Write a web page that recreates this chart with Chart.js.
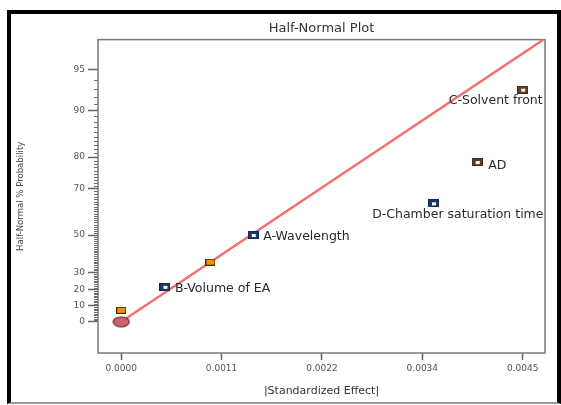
<!DOCTYPE html>
<html>
<head>
<meta charset="utf-8">
<script src="https://cdn.jsdelivr.net/npm/chart.js@4.4.1/dist/chart.umd.min.js"></script>
<style>
  html, body { margin: 0; padding: 0; background: #fff; }
  #wrap { position: relative; width: 561px; height: 405px; overflow: hidden; }
  #frame { position: absolute; left: 7px; top: 10px; width: 554px; height: 394px; box-sizing: border-box;
           border: 4px solid #000; border-bottom: 2px solid #9a9a9a; }
  #chart { position: absolute; left: 0; top: 0; }
</style>
</head>
<body>
<div id="wrap">
  <div id="frame"></div>
  <canvas id="chart" width="561" height="405"></canvas>
</div>
<script>
// axis ticks
const xTickValues = [0, 0.001125, 0.00225, 0.003375, 0.0045];
const xTickLabels = ['0.0000', '0.0011', '0.0022', '0.0034', '0.0045'];
const yTickPct = [0, 10, 20, 30, 50, 70, 80, 90, 95];

// error estimates (orange)
const errorX = [0.0000, 0.00100];
const errorPct = [7.1, 35.7];

// effects (blue)
const blueNames = ['B-Volume of EA', 'A-Wavelength', 'D-Chamber saturation time'];
const blueX = [0.00049, 0.00148, 0.00350];
const bluePct = [21.4, 50.0, 64.3];

// effects (brown)
const brownNames = ['AD', 'C-Solvent front'];
const brownX = [0.00399, 0.00450];
const brownPct = [78.6, 92.9];

// origin marker and reference line
const originX = [0];
const originPct = [0];
const lineX = [0, 0.0048];
const linePct = [0, 97.4];

// inverse normal CDF (Acklam)
function normInv(p) {
    const a = [-3.969683028665376e+01, 2.209460984245205e+02, -2.759285104469687e+02, 1.383577518672690e+02, -3.066479806614716e+01, 2.506628277459239e+00];
    const b = [-5.447609879822406e+01, 1.615858368580409e+02, -1.556989798598866e+02, 6.680131188771972e+01, -1.328068155288572e+01];
    const c = [-7.784894002430293e-03, -3.223964580411365e-01, -2.400758277161838e+00, -2.549671035506888e+00, 4.374664141464968e+00, 2.938163982698783e+00];
    const d = [7.784695709041462e-03, 3.224671290700398e-01, 2.445134137142996e+00, 3.754408661907416e+00];
    const pl = 0.02425;
    if (p < pl) {
        const q = Math.sqrt(-2 * Math.log(p));
        return (((((c[0]*q+c[1])*q+c[2])*q+c[3])*q+c[4])*q+c[5]) / ((((d[0]*q+d[1])*q+d[2])*q+d[3])*q+1);
    }
    if (p > 1 - pl) {
        const q = Math.sqrt(-2 * Math.log(1 - p));
        return -(((((c[0]*q+c[1])*q+c[2])*q+c[3])*q+c[4])*q+c[5]) / ((((d[0]*q+d[1])*q+d[2])*q+d[3])*q+1);
    }
    const q = p - 0.5, r = q * q;
    return (((((a[0]*r+a[1])*r+a[2])*r+a[3])*r+a[4])*r+a[5])*q / (((((b[0]*r+b[1])*r+b[2])*r+b[3])*r+b[4])*r+1);
}
const halfNormal = pct => normInv(0.5 + pct / 200);
const toPoints = (xs, ps) => xs.map((x, i) => ({ x: x, y: halfNormal(ps[i]) }));

function squareMarker(w, h, fill, edge, hole) {
    const cv = document.createElement('canvas');
    cv.width = w; cv.height = h;
    const g = cv.getContext('2d');
    g.fillStyle = edge; g.fillRect(0, 0, w, h);
    g.fillStyle = fill; g.fillRect(1, 1, w - 2, h - 2);
    if (hole) {
        g.fillStyle = '#fff';
        g.fillRect(Math.round((w - 4) / 2), Math.round((h - 3) / 2), 4, 3);
    }
    return cv;
}
function blobMarker(w, h) {
    const cv = document.createElement('canvas');
    cv.width = w; cv.height = h;
    const g = cv.getContext('2d');
    g.beginPath();
    g.ellipse(w / 2, h / 2, w / 2 - 1, h / 2 - 1, 0, 0, Math.PI * 2);
    g.fillStyle = '#d4606a'; g.fill();
    g.lineWidth = 1.2; g.strokeStyle = '#5e2a2a'; g.stroke();
    return cv;
}

const blueMark = squareMarker(11, 8, '#1d3a6b', '#14284a', true);
const brownMark = squareMarker(11, 8, '#6a3b17', '#4a2a10', true);
const orangeMark = squareMarker(10, 7, '#f39200', '#4a2a00', false);
const originMark = blobMarker(18, 12);

const extras = {
    id: 'extras',
    beforeDatasetsDraw(chart) {
        const { ctx, chartArea: a } = chart;
        const y = chart.scales.y;
        ctx.save();
        ctx.strokeStyle = '#6a6a6a';
        ctx.lineWidth = 1;
        for (let p = 1; p <= 95; p++) {
            if (yTickPct.includes(p)) continue;
            const py = Math.round(y.getPixelForValue(halfNormal(p))) + 0.5;
            ctx.beginPath();
            ctx.moveTo(a.left - 4, py);
            ctx.lineTo(a.left, py);
            ctx.stroke();
        }
        ctx.strokeStyle = '#7a7a7a';
        ctx.lineWidth = 1.5;
        ctx.strokeRect(a.left, a.top, a.right - a.left, a.bottom - a.top);
        ctx.restore();
    },
    afterDatasetsDraw(chart) {
        const ctx = chart.ctx;
        ctx.save();
        ctx.font = '12.5px "DejaVu Sans"';
        ctx.fillStyle = '#2a2a2a';
        ctx.textBaseline = 'middle';
        chart.data.datasets.forEach((ds, di) => {
            if (!ds.names) return;
            const meta = chart.getDatasetMeta(di);
            ds.names.forEach((name, i) => {
                const pt = meta.data[i];
                const pos = ds.namePos[i];
                ctx.textAlign = pos.align;
                ctx.fillText(name, pt.x + pos.dx, pt.y + pos.dy);
            });
        });
        ctx.restore();
    }
};

new Chart(document.getElementById('chart'), {
    type: 'scatter',
    data: {
        datasets: [
            {
                label: 'line',
                data: toPoints(lineX, linePct),
                showLine: true,
                borderColor: '#f07070',
                borderWidth: 2.5,
                pointRadius: 0,
                clip: 0,
                order: 5
            },
            {
                label: 'origin',
                data: toPoints(originX, originPct),
                pointStyle: originMark,
                pointRadius: 6,
                order: 2
            },
            {
                label: 'error',
                data: toPoints(errorX, errorPct),
                pointStyle: orangeMark,
                pointRadius: 5,
                order: 1
            },
            {
                label: 'blue',
                data: toPoints(blueX, bluePct),
                pointStyle: blueMark,
                pointRadius: 5,
                names: blueNames,
                namePos: [
                    { dx: 10, dy: 2, align: 'left' },
                    { dx: 10, dy: 1.5, align: 'left' },
                    { dx: 110, dy: 11, align: 'right' }
                ],
                order: 1
            },
            {
                label: 'brown',
                data: toPoints(brownX, brownPct),
                pointStyle: brownMark,
                pointRadius: 5,
                names: brownNames,
                namePos: [
                    { dx: 11, dy: 4, align: 'left' },
                    { dx: 20, dy: 11, align: 'right' }
                ],
                order: 1
            }
        ]
    },
    options: {
        responsive: false,
        animation: false,
        events: [],
        layout: { padding: { left: 0, right: 16, top: 0, bottom: 0 } },
        plugins: {
            legend: { display: false },
            tooltip: { enabled: false },
            title: {
                display: true,
                text: 'Half-Normal Plot',
                fullSize: false,
                color: '#333',
                font: { family: 'DejaVu Sans', size: 13, weight: 'normal' },
                padding: { top: 21, bottom: 3 }
            }
        },
        scales: {
            x: {
                type: 'linear',
                min: -0.00026,
                max: 0.00475,
                afterBuildTicks: s => { s.ticks = xTickValues.map(v => ({ value: v })); },
                afterFit: s => { s.height = 52; },
                ticks: {
                    callback: (v, i) => xTickLabels[i],
                    color: '#555',
                    font: { family: 'DejaVu Sans', size: 9 },
                    padding: 3,
                    maxRotation: 0
                },
                grid: { drawOnChartArea: false, tickLength: 7, tickColor: '#666', tickWidth: 1.5 },
                border: { display: false },
                title: {
                    display: true,
                    text: '|Standardized Effect|',
                    color: '#333',
                    font: { family: 'DejaVu Sans', size: 11 },
                    padding: { top: 7, bottom: 7 }
                }
            },
            y: {
                type: 'linear',
                min: -0.243,
                max: 2.195,
                afterBuildTicks: s => { s.ticks = yTickPct.map(p => ({ value: halfNormal(p) })); },
                afterFit: s => { s.width = 98; },
                ticks: {
                    callback: (v, i) => yTickPct[i],
                    color: '#555',
                    font: { family: 'DejaVu Sans', size: 9 },
                    padding: 3
                },
                grid: { drawOnChartArea: false, tickLength: 10, tickColor: '#666', tickWidth: 1.5 },
                border: { display: false },
                title: {
                    display: true,
                    text: 'Half-Normal % Probability',
                    color: '#444',
                    font: { family: 'DejaVu Sans Condensed', size: 9.5 },
                    padding: { top: 15, bottom: 15 }
                }
            }
        }
    },
    plugins: [extras]
});
</script>
</body>
</html>
